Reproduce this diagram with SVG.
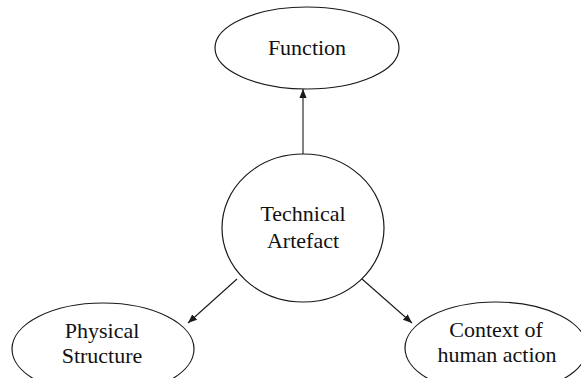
<svg xmlns="http://www.w3.org/2000/svg" width="581" height="378" viewBox="0 0 581 378">
<style>
.n{fill:#fff;stroke:#1a1a1a;stroke-width:1.2}
.t{font-family:"Liberation Serif","Times New Roman",serif;font-size:22px;fill:#111;text-anchor:middle}
.c{stroke:#1a1a1a;stroke-width:1.1;fill:none;marker-end:url(#ah)}
</style>
<defs>
<marker id="ah" viewBox="0 0 10 10" refX="10" refY="5" markerWidth="9" markerHeight="9" markerUnits="userSpaceOnUse" orient="auto">
<path d="M0,1 L10,5 L0,9 Z" fill="#1a1a1a"/>
</marker>
</defs>
<rect width="581" height="378" fill="#fff"/>
<g id="connectors">
<line class="c" x1="303" y1="155" x2="303" y2="89"/>
<line class="c" x1="237" y1="279" x2="188" y2="323"/>
<line class="c" x1="362" y1="279" x2="412" y2="323"/>
</g>
<g id="function">
<ellipse class="n" cx="307" cy="48" rx="92" ry="41"/>
<text class="t" x="307" y="55">Function</text>
</g>
<g id="artefact">
<ellipse class="n" cx="303" cy="228" rx="81" ry="74"/>
<text class="t" x="303" y="221">Technical</text>
<text class="t" x="303" y="248">Artefact</text>
</g>
<g id="physical">
<ellipse class="n" cx="103" cy="349" rx="91" ry="46"/>
<text class="t" x="102" y="338">Physical</text>
<text class="t" x="102" y="363">Structure</text>
</g>
<g id="context">
<ellipse class="n" cx="496" cy="348" rx="91" ry="46"/>
<text class="t" x="496" y="337">Context of</text>
<text class="t" x="497" y="362">human action</text>
</g>
</svg>
